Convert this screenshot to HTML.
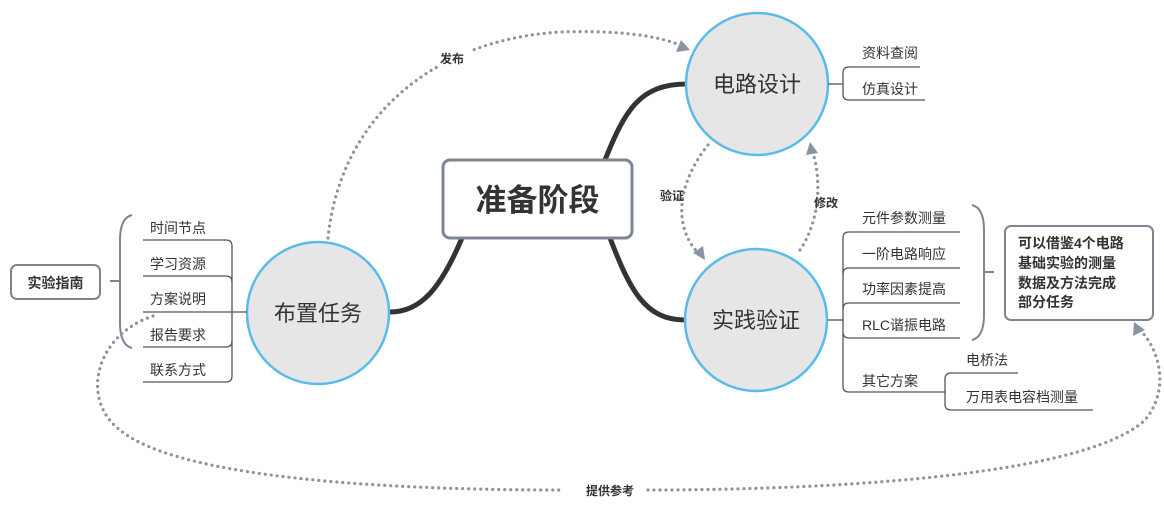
<!DOCTYPE html>
<html><head><meta charset="utf-8"><style>
body{margin:0;background:#fff;}
svg text{font-family:"Liberation Sans","Noto Sans CJK SC",sans-serif;fill:#333;}
</style></head><body>
<svg width="1164" height="511" viewBox="0 0 1164 511" xmlns="http://www.w3.org/2000/svg">
<!-- thick connectors -->
<g fill="none" stroke="#333" stroke-width="5" stroke-linecap="round">
<path d="M605 160 C625 110 640 84 687 84"/>
<path d="M462 238 C440 290 420 312 390 312" />
<path d="M610 238 C630 290 645 320 685 320"/>
</g>
<!-- central box -->
<rect x="443" y="160" width="189" height="78" rx="7" fill="#fff" stroke="#7d8593" stroke-width="3"/>
<text x="537.5" y="211" font-size="31" font-weight="bold" text-anchor="middle" fill="#333">准备阶段</text>

<!-- circles -->
<g fill="#e6e6e6" stroke="#5bbbe8" stroke-width="2.5">
<circle cx="318" cy="313" r="71"/>
<circle cx="757" cy="84" r="71"/>
<circle cx="756" cy="320" r="71"/>
</g>
<g font-size="22" text-anchor="middle" fill="#444">
<text x="318" y="321">布置任务</text>
<text x="757" y="92">电路设计</text>
<text x="756" y="328">实践验证</text>
</g>

<!-- thin tree lines -->
<g fill="none" stroke="#555" stroke-width="1.3">
<path d="M143 240 H226 Q232 240 232 246 V376 Q232 382 226 382 H143"/>
<path d="M143 276 H226 Q232 276 232 282"/>
<path d="M143 347 H226 Q232 347 232 341"/>
<path d="M143 312 H247"/>
<path d="M828 84 H843"/>
<path d="M920 67 H849 Q843 67 843 73 V94 Q843 100 849 100 H925"/>
<path d="M828 320 H843"/>
<path d="M960 232 H849 Q843 232 843 238 V386 Q843 392 849 392 H945"/>
<path d="M960 268 H849 Q843 268 843 274"/>
<path d="M960 303 H849 Q843 303 843 309"/>
<path d="M960 338 H849 Q843 338 843 332"/>
<path d="M1018 373 H951 Q945 373 945 379 V404 Q945 410 951 410 H1093"/>
</g>
<!-- braces -->
<g fill="none" stroke="#7d8593" stroke-width="2">
<path d="M132 215 Q120 218 120 240 V323 Q120 345 132 348"/>
<path d="M120 281 H110"/>
<path d="M972 205 Q984 208 984 230 V315 Q984 337 972 340"/>
<path d="M984 272 H994"/>
</g>
<rect x="11" y="265" width="89" height="34" rx="6" fill="#fff" stroke="#7d8593" stroke-width="2"/>
<text x="55.5" y="288" font-size="14" font-weight="bold" text-anchor="middle">实验指南</text>
<rect x="1005" y="226" width="148" height="94" rx="6" fill="#fff" stroke="#7d8593" stroke-width="2"/>
<g font-size="14" font-weight="bold">
<text x="1018" y="248">可以借鉴4个电路</text>
<text x="1018" y="268">基础实验的测量</text>
<text x="1018" y="288">数据及方法完成</text>
<text x="1018" y="307">部分任务</text>
</g>

<!-- labels -->
<g font-size="14" fill="#444">
<text x="150" y="233">时间节点</text>
<text x="150" y="269">学习资源</text>
<text x="150" y="304">方案说明</text>
<text x="150" y="340">报告要求</text>
<text x="150" y="375">联系方式</text>
<text x="862" y="58">资料查阅</text>
<text x="862" y="94">仿真设计</text>
<text x="862" y="223">元件参数测量</text>
<text x="862" y="259">一阶电路响应</text>
<text x="862" y="294">功率因素提高</text>
<text x="862" y="330">RLC谐振电路</text>
<text x="862" y="386">其它方案</text>
<text x="966" y="365">电桥法</text>
<text x="966" y="402">万用表电容档测量</text>
</g>

<!-- dotted connectors -->
<g fill="none" stroke="#8a93a3" stroke-width="3.2" stroke-dasharray="0 6" stroke-linecap="round">
<path d="M328 238 C340 120 430 40 560 32 C620 30 660 36 682 46"/>
<path d="M708 145 C680 180 670 225 700 255"/>
<path d="M800 250 C820 220 822 180 812 150"/>
<path d="M153 316 C95 335 80 400 120 430 C180 480 400 490 560 490 M648 490 C800 490 1080 480 1145 420 C1170 390 1160 350 1140 330"/>
</g>
<g fill="#8a93a3">
<polygon points="690,50 676,52 681,40"/>
<polygon points="705,260 693,253 703,246"/>
<polygon points="810,142 818,153 806,155"/>
<polygon points="1134,322 1145,330 1133,336"/>
</g>
<rect x="436" y="50" width="34" height="16" fill="#fff"/>
<g font-size="12" font-weight="bold" fill="#333">
<text x="440" y="63">发布</text>
<text x="660" y="200">验证</text>
<text x="814" y="207">修改</text>
<text x="586" y="495">提供参考</text>
</g>
</svg>
</body></html>
